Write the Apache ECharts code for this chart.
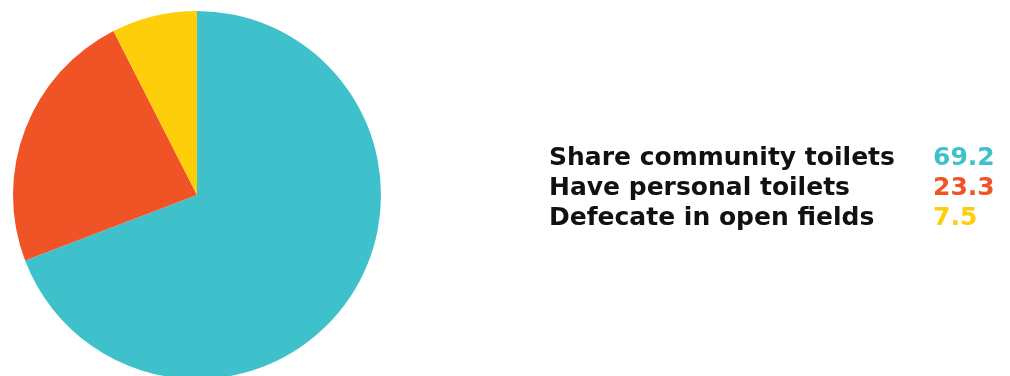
<!DOCTYPE html>
<html>
<head>
<meta charset="utf-8">
<script src="https://cdn.jsdelivr.net/npm/echarts@6/dist/echarts.min.js"></script>
<style>
  html, body { margin: 0; padding: 0; background: #fff; }
  #chart { width: 1010px; height: 376px; }
</style>
</head>
<body>
<div id="chart"></div>
<script>
// Sanitation access, share of households (%)
const categories = ['Share community toilets', 'Have personal toilets', 'Defecate in open fields'];
const values = [69.2, 23.3, 7.5];
const colors = ['#3EC1CB', '#F05426', '#FFCE0A'];

const chart = echarts.init(document.getElementById('chart'), null, { renderer: 'canvas' });

const FONT = '"DejaVu Sans", sans-serif';
const rich = {
  n: { fontFamily: FONT, fontWeight: 'bold', fontSize: 25, color: '#111', width: 384, lineHeight: 30 }
};
colors.forEach((c, i) => {
  rich['v' + i] = { fontFamily: FONT, fontWeight: 'bold', fontSize: 25, color: c, lineHeight: 30 };
});

chart.setOption({
  animation: false,
  legend: {
    orient: 'vertical',
    left: 539,
    top: 138,
    icon: 'none',
    itemWidth: 0,
    itemHeight: 30,
    itemGap: 0,
    selectedMode: false,
    data: categories,
    textStyle: { rich: rich, lineHeight: 30 },
    formatter: function (name) {
      const i = categories.indexOf(name);
      return '{n|' + name + '}{v' + i + '|' + values[i] + '}';
    }
  },
  series: [{
    type: 'pie',
    center: [197, 195],
    radius: 184,
    startAngle: 90,
    clockwise: true,
    label: { show: false },
    labelLine: { show: false },
    emphasis: { disabled: true },
    itemStyle: { borderWidth: 0 },
    data: categories.map((name, i) => ({
      name: name,
      value: values[i],
      itemStyle: { color: colors[i] }
    }))
  }]
});
</script>
</body>
</html>
